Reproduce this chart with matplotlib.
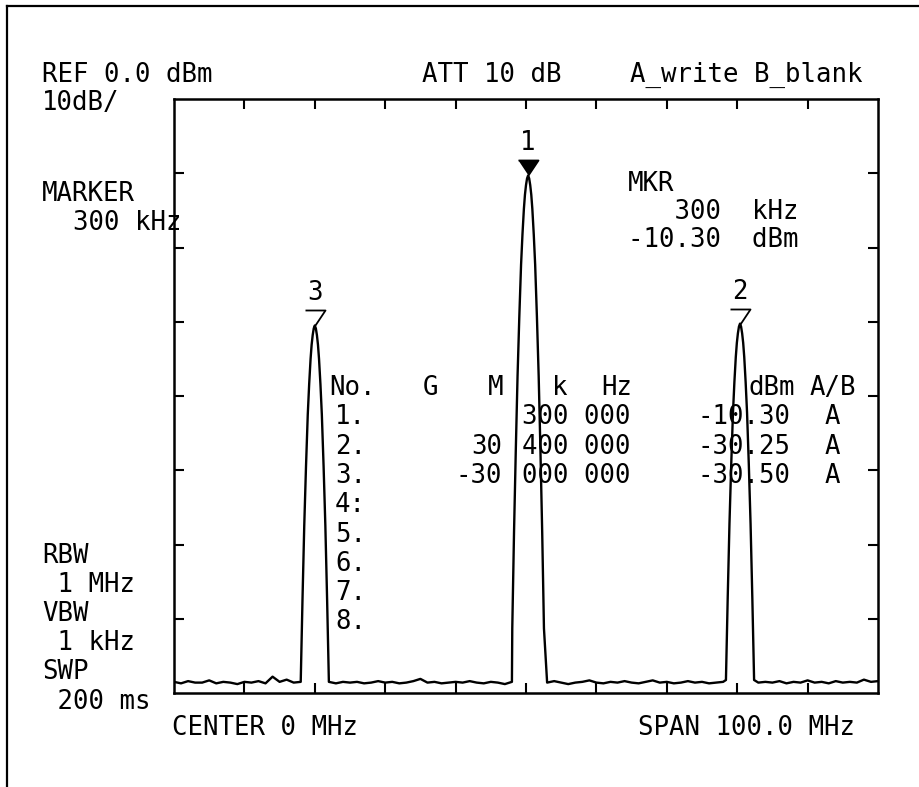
import matplotlib
matplotlib.use("Agg")
import matplotlib.pyplot as plt
import numpy as np
from matplotlib.lines import Line2D

# Marker readings (MHz, dBm)
peak_labels = ["1", "2", "3"]
peak_mhz = [0.3, 30.4, -30.0]
peak_dbm = [-10.30, -30.25, -30.50]

# Resolution filter shape: offset from carrier (MHz) vs drop below peak (dB)
prof_off = np.array([0, 0.15, 0.3, 0.45, 0.6, 0.8, 1.0, 1.25, 1.5, 1.75, 2.0, 2.25, 2.5])
prof_drop = np.array([0, 0.4, 1.3, 2.6, 4.5, 7.9, 12, 19, 27, 37, 48, 61, 75])

# Noise floor, one reading per MHz from -50 to +50
floor_dbm = [
    -78.5, -78.7, -78.4, -78.6, -78.6, -78.3, -78.7, -78.5, -78.6, -78.8,
    -78.5, -78.6, -78.4, -78.7, -77.8, -78.5, -78.2, -78.6, -78.7, -78.5,
    -78.6, -78.4, -78.6, -78.7, -78.5, -78.6, -78.5, -78.7, -78.6, -78.4,
    -78.6, -78.5, -78.7, -78.6, -78.4, -78.1, -78.6, -78.5, -78.7, -78.6,
    -78.5, -78.6, -78.4, -78.6, -78.7, -78.5, -78.6, -78.8, -78.5, -78.6,
    -78.6,
    -78.5, -78.7, -78.6, -78.4, -78.6, -78.8, -78.6, -78.5, -78.3, -78.6,
    -78.7, -78.5, -78.6, -78.4, -78.6, -78.7, -78.5, -78.3, -78.6, -78.5,
    -78.7, -78.6, -78.4, -78.6, -78.5, -78.7, -78.6, -78.5, -78.4, -78.6,
    -78.5, -78.7, -78.6, -78.5, -78.6, -78.4, -78.7, -78.5, -78.6, -78.3,
    -78.6, -78.5, -78.7, -78.4, -78.6, -78.5, -78.6, -78.2, -78.5, -78.4,
]
floor_mhz = np.arange(-50, 51, 1.0)

x_ticks = [-40, -30, -20, -10, 0, 10, 20, 30, 40]
y_ticks = [-70, -60, -50, -40, -30, -20, -10]

W, H = 919, 787
FONT = "DejaVu Sans Mono"
FS = 18.5

fig = plt.figure(figsize=(W / 100, H / 100), dpi=100)
fig.patch.set_facecolor("white")


def px(x, y):
    return x / W, 1 - y / H


def label(x, y, s, ha="left"):
    fig.text(*px(x, y), s, ha=ha, va="center", family=FONT, fontsize=FS, color="black")


# screen border
fig.add_artist(Line2D([7 / W, 1], [1 - 6 / H] * 2, color="black", lw=1.6))
fig.add_artist(Line2D([7 / W] * 2, [1 - 6 / H, 0], color="black", lw=1.6))

l, r, t, b = 174, 878, 99, 693
ax = fig.add_axes([l / W, 1 - b / H, (r - l) / W, (b - t) / H])
ax.set_xlim(-50, 50)
ax.set_ylim(-80, 0)
for s in ax.spines.values():
    s.set_linewidth(1.8)
ax.set_xticks(x_ticks)
ax.set_yticks(y_ticks)
ax.tick_params(direction="in", length=7.5, width=1.5, top=True, right=True,
               labelbottom=False, labelleft=False)

# build trace: floor plus filter response around each carrier
floor = np.array(floor_dbm)
keep = np.ones(len(floor_mhz), bool)
tr_f, tr_l = [], []
for f0, lvl in zip(peak_mhz, peak_dbm):
    off = np.concatenate([-prof_off[::-1], prof_off[1:]])
    drop = np.concatenate([prof_drop[::-1], prof_drop[1:]])
    lv = lvl - drop
    base = floor[np.abs(floor_mhz - f0).argmin()]
    m = lv > base
    tr_f += list(f0 + off[m])
    tr_l += list(lv[m])
    keep &= np.abs(floor_mhz - f0) > off[m].max()
tr_f += list(floor_mhz[keep])
tr_l += list(floor[keep])
order = np.argsort(tr_f)
ax.plot(np.array(tr_f)[order], np.array(tr_l)[order], color="black", lw=1.7)

# marker triangles with tip on the peak
tri = [(-1, 1.5), (1, 1.5), (0, 0)]
for i, (name, f0, lvl) in enumerate(zip(peak_labels, peak_mhz, peak_dbm)):
    ax.plot(f0, lvl, marker=tri, markersize=21.6, markeredgewidth=1.3,
            markeredgecolor="black", markerfacecolor="black" if i == 0 else "none",
            clip_on=False, zorder=5)
    ax.annotate(name, (f0, lvl), xytext=(0, 32), textcoords="offset pixels",
                ha="center", va="center", family=FONT, fontsize=FS, annotation_clip=False)

# header lines
label(42, 75, "REF 0.0 dBm")
label(42, 103, "10dB/")
label(422, 75, "ATT 10 dB")
label(630, 75, "A_write B_blank")

mkr_khz = peak_mhz[0] * 1000
label(42, 194, "MARKER")
label(42, 223, f"  {mkr_khz:.0f} kHz")

label(628, 184, "MKR")
label(628, 212, f"   {mkr_khz:.0f}  kHz")
label(628, 240, f"{peak_dbm[0]:.2f}  dBm")

# marker table
rows_y = [388 + 29.3 * k for k in range(9)]
label(329, rows_y[0], "No.")
label(431, rows_y[0], "G", ha="center")
label(496, rows_y[0], "M", ha="center")
label(560, rows_y[0], "k", ha="center")
label(601, rows_y[0], "Hz")
label(748, rows_y[0], "dBm")
label(810, rows_y[0], "A/B")
for k in range(8):
    label(366, rows_y[k + 1], f"{k + 1}." if k != 3 else f"{k + 1}:", ha="right")
for k, (f0, lvl) in enumerate(zip(peak_mhz, peak_dbm)):
    hz = int(round(abs(f0) * 1e6))
    mhz = int(f0)
    rest = hz % 1000000
    y = rows_y[k + 1]
    if mhz != 0:
        label(502, y, str(mhz), ha="right")
    label(631, y, f"{rest // 1000:03d} {rest % 1000:03d}", ha="right")
    label(791, y, f"{lvl:.2f}", ha="right")
    label(832, y, "A", ha="center")

# instrument settings
label(42, 556, "RBW")
label(42, 585, " 1 MHz")
label(42, 614, "VBW")
label(42, 643, " 1 kHz")
label(42, 672, "SWP")
label(42, 702, " 200 ms")

label(172, 728, "CENTER 0 MHz")
label(638, 728, "SPAN 100.0 MHz")

fig.savefig("out.png", dpi=100, facecolor="white")
